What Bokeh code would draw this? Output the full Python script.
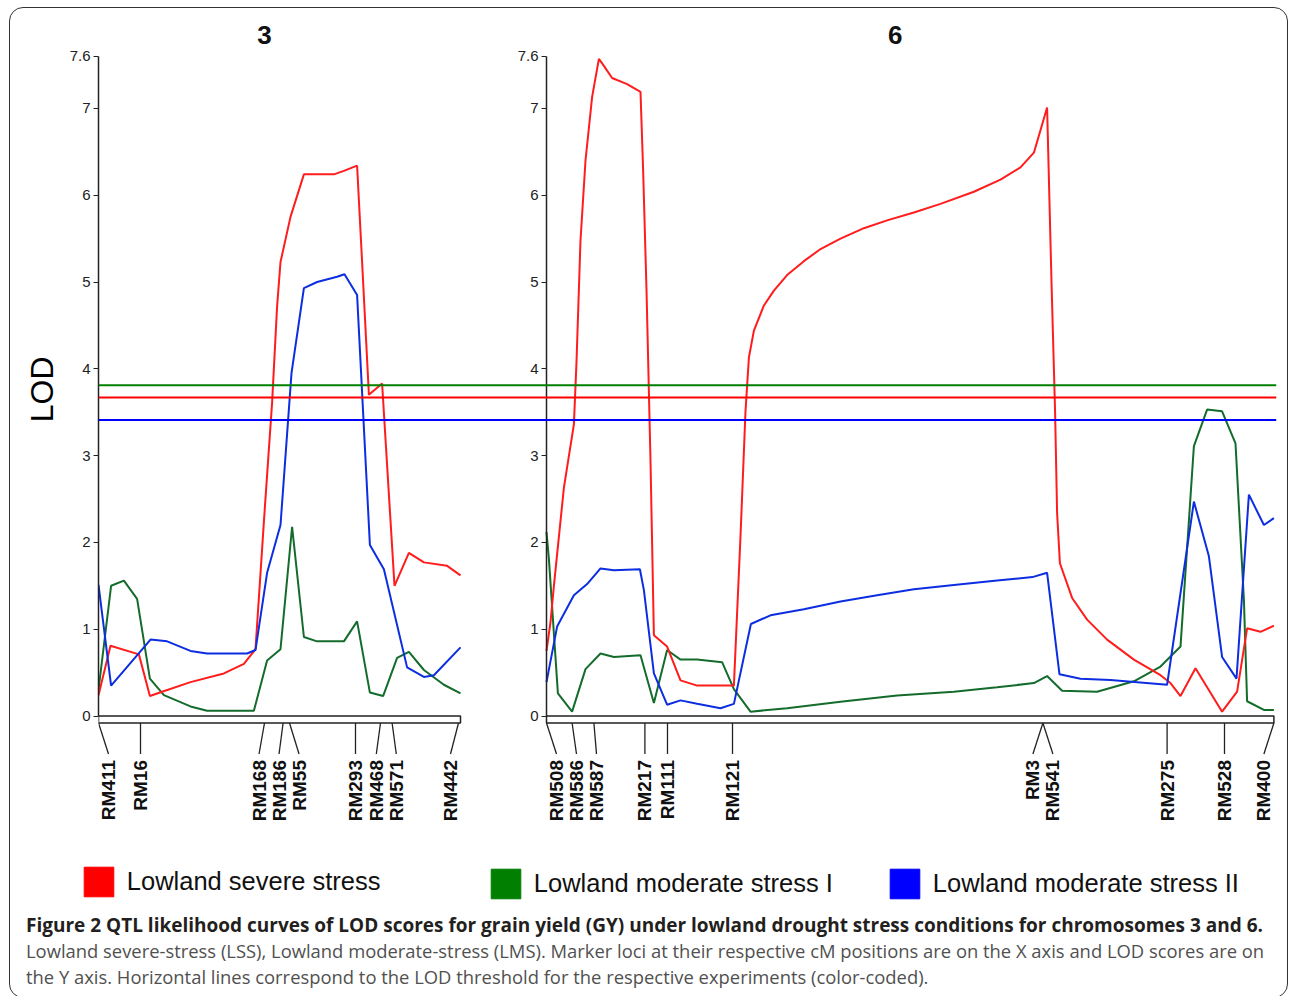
import numpy as np
from bokeh.plotting import figure
from bokeh.models import (Range1d, LinearAxis, FixedTicker, CustomJSTickFormatter, Span,
                          Legend, LegendItem, Div, Title)
from bokeh.layouts import column
from bokeh.embed import file_html
from bokeh.resources import INLINE
from bokeh.core.properties import value

# ---------------- data ----------------
CHROMS = ["3", "6"]
CHR_LENGTH = {"3": 181.0, "6": 363.7}          # cM

SERIES = ["Lowland severe stress", "Lowland moderate stress I", "Lowland moderate stress II"]
THRESHOLDS = [3.67, 3.81, 3.41]                 # LOD thresholds (LSS, LMS I, LMS II)
LOD_TICKS = [0, 1, 2, 3, 4, 5, 6, 7, 7.6]

chr3_markers = ["RM411", "RM16", "RM168", "RM186", "RM55", "RM293", "RM468", "RM571", "RM442"]
chr3_marker_cm = [0, 21, 83, 92.3, 95.5, 128.5, 141, 146.8, 180]

chr6_markers = ["RM508", "RM586", "RM587", "RM217", "RM111", "RM121", "RM3", "RM541",
                "RM275", "RM528", "RM400"]
chr6_marker_cm = [0, 12.8, 23.7, 49.2, 60.5, 93, 248.2, 248.2, 310.3, 339, 363.7]

# chromosome 3 curves
chr3_lss_cm = [0, 6, 20.2, 25.7, 31.8, 46, 62.7, 72.7, 78.5, 82.7, 86.8, 89.3, 91, 96, 102.7,
               117.7, 122.7, 129.3, 131.8, 135.2, 141.8, 148, 155.2, 162.7, 174.3, 181]
chr3_lss_lod = [0.24, 0.81, 0.71, 0.23, 0.28, 0.39, 0.49, 0.60, 0.77, 2.24, 3.61, 4.72, 5.23,
                5.75, 6.24, 6.24, 6.28, 6.34, 5.23, 3.70, 3.83, 1.50, 1.88, 1.77, 1.73, 1.62]

chr3_lms1_cm = [0, 6.3, 12.7, 19.3, 25.7, 32.7, 46, 54.3, 77.7, 84.3, 91, 96.8, 102.7, 109.3,
                122.7, 129.3, 135.7, 142.3, 149.3, 155.2, 162.7, 172.7, 181]
chr3_lms1_lod = [0.30, 1.50, 1.56, 1.35, 0.43, 0.24, 0.11, 0.06, 0.06, 0.64, 0.77, 2.18, 0.91,
                 0.86, 0.86, 1.09, 0.27, 0.23, 0.67, 0.74, 0.53, 0.36, 0.26]

chr3_lms2_cm = [0, 6.3, 26, 34.3, 46, 54.3, 74.3, 78.5, 84.3, 91, 96.5, 102.7, 109.3, 119.3,
                123, 129.3, 135.7, 142.7, 154.3, 162.7, 167.7, 181]
chr3_lms2_lod = [1.51, 0.35, 0.88, 0.86, 0.75, 0.72, 0.72, 0.76, 1.65, 2.20, 3.95, 4.93, 5.00,
                 5.06, 5.09, 4.85, 1.97, 1.69, 0.56, 0.45, 0.47, 0.79]

# chromosome 6 curves
chr6_lss_cm = [0, 2, 3.7, 8.7, 13.7, 15, 17, 19.5, 22.8, 26.2, 28.7, 32.8, 40.3, 47, 48.3, 50,
               52, 53.7, 60.3, 67, 75.3, 93.7, 97, 99.5, 101.2, 103.7, 108.7, 113.7, 120.3,
               128.7, 137, 147, 158.7, 170.3, 183.7, 197, 213.7, 227, 237, 243.7, 250.3, 252.5,
               254.3, 255.3, 256.7, 262.8, 270.3, 280.3, 293.7, 307, 312, 317, 324.5, 337.8,
               345.3, 350.3, 357, 363.7]
chr6_lss_lod = [0.75, 1.08, 1.50, 2.63, 3.36, 4.08, 5.48, 6.40, 7.13, 7.57, 7.49, 7.35, 7.28,
                7.19, 6.30, 4.91, 2.94, 0.93, 0.80, 0.41, 0.35, 0.35, 2.07, 3.51, 4.13, 4.44,
                4.73, 4.90, 5.08, 5.24, 5.38, 5.50, 5.62, 5.71, 5.80, 5.90, 6.04, 6.18, 6.32,
                6.49, 7.01, 5.00, 3.50, 2.34, 1.76, 1.36, 1.11, 0.88, 0.65, 0.47, 0.38, 0.23,
                0.55, 0.05, 0.28, 1.01, 0.97, 1.04]

chr6_lms1_cm = [0, 1.2, 5.7, 12.8, 19.5, 27, 33.7, 47, 53.7, 60.3, 67, 75.3, 87.8, 93.7, 102,
                120.3, 147, 175.3, 203.7, 225.3, 243.7, 250.3, 257.8, 275.3, 293.7, 307, 317,
                323.7, 330.3, 337.8, 344.5, 348.7, 350.3, 358.7, 363.7]
chr6_lms1_lod = [2.12, 1.81, 0.26, 0.05, 0.54, 0.72, 0.68, 0.70, 0.15, 0.76, 0.65, 0.65, 0.62,
                 0.31, 0.05, 0.09, 0.165, 0.236, 0.28, 0.33, 0.38, 0.46, 0.29, 0.28, 0.40, 0.57,
                 0.80, 3.11, 3.53, 3.51, 3.14, 1.34, 0.17, 0.07, 0.07]

chr6_lms2_cm = [0, 5.3, 13.7, 20.3, 27, 33.7, 46.7, 48.7, 53.7, 60.3, 67, 75.3, 87, 93.7, 102.2,
                112, 128.7, 147, 165.3, 183.7, 203.7, 225.3, 243, 250.3, 256.5, 267, 282, 310.3,
                323.7, 331.2, 337.8, 345, 351.2, 358.7, 363.7]
chr6_lms2_lod = [0.39, 1.03, 1.39, 1.52, 1.70, 1.68, 1.69, 1.45, 0.49, 0.13, 0.18, 0.14, 0.09,
                 0.14, 1.06, 1.16, 1.23, 1.32, 1.39, 1.46, 1.51, 1.56, 1.60, 1.65, 0.48, 0.43,
                 0.415, 0.36, 2.47, 1.84, 0.68, 0.43, 2.55, 2.20, 2.28]

CAPTION_BOLD = ("Figure 2 QTL likelihood curves of LOD scores for grain yield (GY) under lowland "
                "drought stress conditions for chromosomes 3 and 6.")
CAPTION_LINES = ["Lowland severe-stress (LSS), Lowland moderate-stress (LMS). Marker loci at their "
                 "respective cM positions are on the X axis and LOD scores are on",
                 "the Y axis. Horizontal lines correspond to the LOD threshold for the respective "
                 "experiments (color-coded)."]

# ---------------- styling / layout ----------------
CURVE_COLORS = ["#ff1c1c", "#146c2c", "#0c2ee0"]
THRESH_COLORS = ["#ff0000", "#008000", "#0000ff"]
LEGEND_COLORS = ["#ff0000", "#007f00", "#0000ff"]

W = 1277
H_MAIN = 840
PX_PER_CM = 2.0
PX_PER_LOD = 86.8
FRAME_LEFT = 88          # px in figure
FRAME_RIGHT_PAD = 11
CHR6_ORIGIN = 536        # px in figure where chr6 starts
ZERO_Y = 707.5           # px from figure top where LOD = 0

frame_w = W - FRAME_LEFT - FRAME_RIGHT_PAD
span_cm = frame_w / PX_PER_CM
off6 = (CHR6_ORIGIN - FRAME_LEFT) / PX_PER_CM

p = figure(width=W, height=H_MAIN, output_backend="svg", toolbar_location=None,
           x_range=Range1d(0, span_cm),
           y_range=Range1d(-(H_MAIN - ZERO_Y) / PX_PER_LOD, ZERO_Y / PX_PER_LOD),
           x_axis_type=None, y_axis_type=None,
           min_border_left=FRAME_LEFT, min_border_right=FRAME_RIGHT_PAD,
           min_border_top=0, min_border_bottom=0)
p.extra_x_ranges = {"chr6": Range1d(-off6, span_cm - off6)}
p.outline_line_color = None
p.background_fill_color = None
p.border_fill_color = None

fmt = CustomJSTickFormatter(code="return String(tick);")


def make_axis(**kw):
    ax = LinearAxis(ticker=FixedTicker(ticks=LOD_TICKS), formatter=fmt,
                    bounds=(0, LOD_TICKS[-1]), **kw)
    ax.axis_line_color = "#222222"
    ax.axis_line_width = 1.5
    ax.major_tick_line_color = "#222222"
    ax.major_tick_in = 0
    ax.major_tick_out = 5
    ax.minor_tick_line_color = None
    ax.major_label_text_font = "Liberation Sans"
    ax.major_label_text_font_size = "15px"
    ax.major_label_text_color = "#222222"
    ax.major_label_standoff = 3
    return ax


ax3 = make_axis()
p.add_layout(ax3, "left")
p.add_layout(Title(text="LOD", align="right", offset=348, standoff=14,
                   text_font="Liberation Sans", text_font_size="32px",
                   text_font_style="normal", text_color="#000000"), "left")

ax6 = make_axis(x_range_name="chr6", fixed_location=0)
p.add_layout(ax6, "left")

# threshold lines
for t, c in zip(THRESHOLDS, THRESH_COLORS):
    p.add_layout(Span(location=t, dimension="width", line_color=c, line_width=2))


def spread(pos, lo, hi, gap):
    groups = []
    for q in pos:
        groups.append([q, [q]])
        while True:
            g = groups[-1]
            n = len(g[1])
            start = float(np.mean(g[1])) - (n - 1) * gap / 2
            start = min(max(start, lo), hi - (n - 1) * gap)
            g[0] = start
            if len(groups) > 1:
                prev = groups[-2]
                prev_end = prev[0] + (len(prev[1]) - 1) * gap
                if start < prev_end + gap:
                    prev[1].extend(g[1])
                    groups.pop()
                    continue
            break
    out = []
    for start, members in groups:
        out += [start + k * gap for k in range(len(members))]
    return out


bar_bottom = -7 / PX_PER_LOD
leader_bottom = -38 / PX_PER_LOD
label_top = -44 / PX_PER_LOD
title_y = (ZERO_Y - 26) / PX_PER_LOD

chrom_data = {
    "3": dict(markers=chr3_markers, pos=chr3_marker_cm,
              curves=[(chr3_lss_cm, chr3_lss_lod), (chr3_lms1_cm, chr3_lms1_lod),
                      (chr3_lms2_cm, chr3_lms2_lod)], rng="default"),
    "6": dict(markers=chr6_markers, pos=chr6_marker_cm,
              curves=[(chr6_lss_cm, chr6_lss_lod), (chr6_lms1_cm, chr6_lms1_lod),
                      (chr6_lms2_cm, chr6_lms2_lod)], rng="chr6"),
}

for ch in CHROMS:
    d = chrom_data[ch]
    L = CHR_LENGTH[ch]
    rn = d["rng"]
    for idx in [1, 0, 2]:
        xs, ys = d["curves"][idx]
        p.line(xs, ys, line_color=CURVE_COLORS[idx], line_width=2, x_range_name=rn)
    p.quad(left=[0], right=[L], top=[0], bottom=[bar_bottom], fill_color=None,
           line_color="#222222", line_width=1.5, x_range_name=rn)
    gap = 20 / PX_PER_CM
    lab = spread(d["pos"], 5, L - 5, gap)
    p.segment(x0=d["pos"], y0=[bar_bottom] * len(lab), x1=lab, y1=[leader_bottom] * len(lab),
              line_color="#222222", line_width=1.3, x_range_name=rn)
    p.text(x=lab, y=[label_top] * len(lab), text=d["markers"], angle=np.pi / 2,
           text_align="right", text_baseline="middle", text_font=value("Liberation Sans"),
           text_font_style="bold", text_font_size="19px", text_color="#111111",
           x_range_name=rn)
    p.text(x=[L / 2], y=[title_y], text=[ch], x_offset=-15, text_align="center",
           text_baseline="middle", text_font=value("Liberation Sans"),
           text_font_style="bold", text_font_size="26px", text_color="#111111",
           x_range_name=rn)

# ---------------- legend ----------------
LG_H = 59
lg = figure(width=W, height=LG_H, output_backend="svg", toolbar_location=None,
            x_range=Range1d(0, 1), y_range=Range1d(0, 1), x_axis_type=None, y_axis_type=None,
            min_border=0)
lg.outline_line_color = None
lg.background_fill_color = None
lg.border_fill_color = None
lg_frame_left = FRAME_LEFT
if "frame_align" in lg.properties():
    lg.frame_align = False
    lg_frame_left = 0
# legend square left edges (figure px), minus the 10% glyph inset
legend_px = [73.5, 480.5, 879.5]
legend_y = [7.5, 5.5, 5.5]
for name, col, lx, ly in zip(SERIES, LEGEND_COLORS, legend_px, legend_y):
    r = lg.quad(left=[5], right=[6], top=[6], bottom=[5], fill_color=col, line_color=col)
    leg = Legend(items=[LegendItem(label=name, renderers=[r])],
                 location=(lx - 3.7 - lg_frame_left, ly),
                 orientation="horizontal", glyph_width=37, glyph_height=37, label_standoff=10,
                 padding=0, margin=0, border_line_color=None, background_fill_alpha=0,
                 label_text_font="Liberation Sans", label_text_font_size="25.5px",
                 label_text_color="#111111")
    lg.add_layout(leg)

# ---------------- caption ----------------
cap_html = (
    '<div style="font-family:\'Open Sans\'; line-height:26px; '
    'padding-left:11px; white-space:nowrap;">'
    f'<div style="font-weight:bold; color:#231f20; font-size:19px;">{CAPTION_BOLD}</div>'
    f'<div style="color:#505050; font-size:18.4px;">{CAPTION_LINES[0]}</div>'
    f'<div style="color:#505050; font-size:18.4px;">{CAPTION_LINES[1]}</div>'
    '</div>'
)
cap = Div(text=cap_html, width=W - 10, height=80)

layout = column(p, lg, cap, spacing=0,
                styles={"border": "1.5px solid #333333", "border-radius": "14px",
                        "margin-left": "9px", "margin-top": "7px"})

open("out.html", "w").write(file_html(layout, INLINE))
